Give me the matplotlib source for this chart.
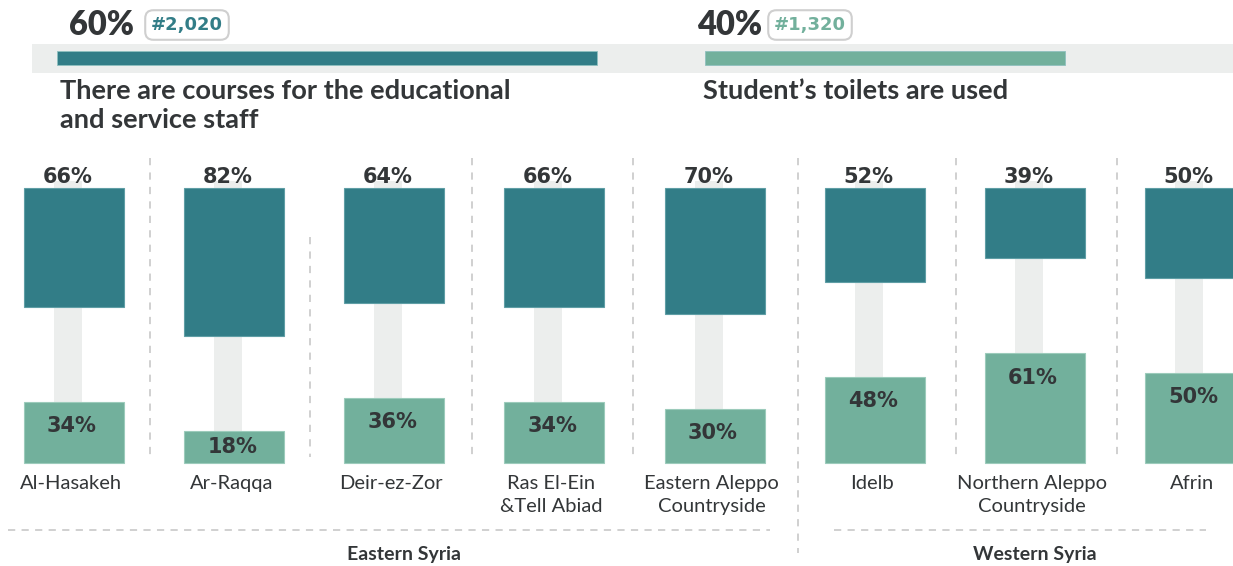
import matplotlib
matplotlib.use("Agg")
import matplotlib.pyplot as plt
from matplotlib.patches import Rectangle

# ---------------- data ----------------
regions = ["Al-Hasakeh", "Ar-Raqqa", "Deir-ez-Zor", "Ras El-Ein\n&Tell Abiad",
           "Eastern Aleppo\nCountryside", "Idelb", "Northern Aleppo\nCountryside", "Afrin"]
courses_pct = [66, 82, 64, 66, 70, 52, 39, 50]
toilets_pct = [34, 18, 36, 34, 30, 48, 61, 50]
groups = ["Eastern Syria", "Western Syria"]
header_pct = [60, 40]
header_count = ["#2,020", "#1,320"]
header_titles = ["There are courses for the educational\nand service staff",
                 "Student\u2019s toilets are used"]

# ---------------- style ----------------
TEAL = "#327D87"
GREEN = "#72B09C"
LIGHT = "#ECEEED"
DARK = "#333638"
DASH = "#CDCDCD"

W, H = 1233, 566
fig = plt.figure(figsize=(W / 100, H / 100), dpi=100)
fig.patch.set_facecolor("white")

# pixel overlay axes (text, header, separators)
axp = fig.add_axes([0, 0, 1, 1])
axp.set_xlim(0, W)
axp.set_ylim(H, 0)
axp.axis("off")

# data axes for the column chart: y in percent units (1.8 px per %)
PX = 1.8
BASE = 463
axd = fig.add_axes([0, 0, 1, 1])
axd.set_xlim(0, W)
axd.set_ylim((BASE - H) / PX, BASE / PX)
axd.axis("off")
axd.patch.set_alpha(0)
TOP = (BASE - 188) / PX  # column top in % units

# ---------------- header ----------------
axp.add_patch(Rectangle((32, 44), W - 32, 29, color=LIGHT, lw=0, zorder=1))
hdr_left = [57, 705]
hdr_pct_x = [69, 697]
hdr_box_x = [187, 810]
hdr_title_x = [60, 703]
hdr_colors = [TEAL, GREEN]
HSCALE = 9.0  # px per percent
for i, (p, c, t) in enumerate(zip(header_pct, header_count, header_titles)):
    axp.barh(58, p * HSCALE, left=hdr_left[i], height=14, color=hdr_colors[i],
             edgecolor="#8fc0bf", lw=0.6, zorder=2)
    axp.text(hdr_pct_x[i], 25, f"{p}%", fontsize=23.5, fontweight="heavy",
             family=["Lato", "DejaVu Sans"], color=DARK, ha="left", va="center")
    axp.text(hdr_box_x[i], 25, c, fontsize=13,
             fontweight="bold", family=["DejaVu Sans"], color=hdr_colors[i],
             ha="center", va="center",
             bbox=dict(boxstyle="round,pad=0.32,rounding_size=0.45", fc="white",
                       ec="#cfcfcf", lw=1.5))
    axp.text(hdr_title_x[i], 79, t, fontsize=19.6, fontweight="bold",
             family=["Lato", "DejaVu Sans"], color=DARK, ha="left", va="top",
             linespacing=1.25)

# ---------------- columns ----------------
x0, step = 74, 160.15
xs = [x0 + step * i for i in range(len(regions))]
BW = 100

for x, c, g, name in zip(xs, courses_pct, toilets_pct, regions):
    # connector
    axd.bar(x - 6, TOP + 4, width=28, bottom=0, color=LIGHT, lw=0, zorder=1)
    # toilets (bottom)
    axd.bar(x, g, width=BW, bottom=0, color=GREEN, edgecolor="#9ccbbb", lw=0.8, zorder=2)
    # courses (top, hanging)
    axd.bar(x, c, width=BW, bottom=TOP - c, color=TEAL, edgecolor="#5f9ea5", lw=0.8, zorder=2)
    axd.text(x - 6.5, TOP + 6.0, f"{c}%", fontsize=15, fontweight="bold", color=DARK,
             ha="center", va="center", zorder=3)
    ly = max(g - 13.5, g / 2)
    axd.text(x - 2, ly, f"{g}%", fontsize=15, fontweight="bold", color=DARK,
             ha="center", va="center", zorder=3)
    axd.text(x - 3, (BASE - 475) / PX, name, fontsize=14.5, family=["Lato", "DejaVu Sans"],
             color=DARK, ha="center", va="top", linespacing=1.42, zorder=3)

# ---------------- separators ----------------
seps = [(150, 158, 458), (310, 237, 457), (472, 158, 458), (633, 158, 458),
        (798, 158, 553), (956, 158, 458), (1117, 158, 458)]
for sx, y1, y2 in seps:
    axp.plot([sx, sx], [y1, y2], color=DASH, lw=1.3, ls=(0, (4, 4)), zorder=0)

for gx1, gx2 in [(8, 770), (834, 1206)]:
    axp.plot([gx1, gx2], [530, 530], color=DASH, lw=1.3, ls=(0, (4, 3.5)), zorder=0)

group_x = [404, 1035]
for gx, gname in zip(group_x, groups):
    axp.text(gx, 563, gname, fontsize=14, fontweight="bold", family=["Lato", "DejaVu Sans"],
             color=DARK, ha="center", va="bottom")

fig.savefig("out.png", dpi=100, facecolor="white")
